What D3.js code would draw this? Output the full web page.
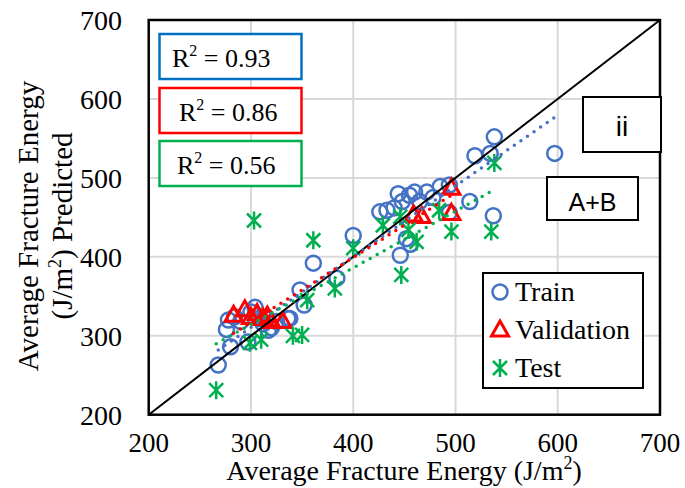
<!DOCTYPE html>
<html>
<head>
<meta charset="utf-8">
<script src="https://cdn.jsdelivr.net/npm/d3@7"></script>
<style>
  body { margin: 0; background: #fff; }
  text { font-family: "Liberation Serif", "Times New Roman", serif; fill: #000; }
  .sans { font-family: "Liberation Sans", Arial, sans-serif; }
</style>
</head>
<body>
<div id="chart"></div>
<script>
var trainX = [268, 280, 276, 278, 284, 290, 297, 300, 304, 308, 312, 317, 320, 325, 336, 338, 348, 352, 361, 384, 400,
              426, 433, 440, 444, 448, 455, 460, 465, 472, 478, 485, 494, 494, 452, 456, 446, 514, 537, 519, 534, 538, 597];
var trainY = [263, 286, 308, 320, 324, 318, 292, 330, 336, 322, 315, 307, 310, 318, 322, 322, 358, 339, 392, 373, 427,
              457, 459, 462, 480, 470, 478, 482, 470, 482, 475, 489, 491, 456, 423, 416, 402, 470, 452, 528, 531, 552, 531];

var valX = [283, 294, 300, 306, 312, 316, 320, 331, 459, 467, 496, 496];
var valY = [326, 333, 323, 328, 322, 325, 318, 318, 453, 451, 487, 455];

var testX = [266, 299, 303, 310, 341, 350, 355, 361, 382, 400, 429, 446, 447, 454, 462, 484, 496, 535, 538];
var testY = [231, 291, 446, 295, 300, 301, 345, 421, 360, 411, 440, 451, 377, 434, 419, 459, 432, 432, 519];

//linear trendlines (slope, intercept) and their R2 labels
var trainFit = [0.896, 41.7];
var valFit = [0.82, 71.1];
var testFit = [0.717, 99.3];
var r2Labels = ["0.93", "0.86", "0.56"];

var ticks = [200, 300, 400, 500, 600, 700];
var legendNames = ["Train", "Validation", "Test"];

var w = 685,
    h = 488;

var blue = "#4472C4",
    red = "#FF0000",
    green = "#00B050";

var svg = d3.select("#chart").append("svg").attr("width", w).attr("height", h);

var x = d3.scaleLinear().domain([200, 700]).range([148.7, 660]);
var y = d3.scaleLinear().domain([200, 700]).range([414.7, 20]);

//gridlines
svg.append("g").selectAll("line.gx")
  .data(ticks.slice(1, -1))
  .enter().append("line")
    .attr("x1", d => x(d)).attr("x2", d => x(d))
    .attr("y1", y(200)).attr("y2", y(700))
    .style("stroke", "#D9D9D9").style("stroke-width", 2);

svg.append("g").selectAll("line.gy")
  .data(ticks.slice(1, -1))
  .enter().append("line")
    .attr("y1", d => y(d)).attr("y2", d => y(d))
    .attr("x1", x(200)).attr("x2", x(700))
    .style("stroke", "#D9D9D9").style("stroke-width", 2);

//tick labels
svg.append("g").selectAll("text")
  .data(ticks)
  .enter().append("text")
    .attr("x", 122)
    .attr("y", d => y(d))
    .attr("dy", "0.35em")
    .attr("text-anchor", "end")
    .style("font-size", "28px")
    .text(d => d);

svg.append("g").selectAll("text")
  .data(ticks)
  .enter().append("text")
    .attr("x", d => x(d))
    .attr("y", 452)
    .attr("text-anchor", "middle")
    .style("font-size", "27px")
    .text(d => d);

//axis titles
var xt = svg.append("text")
  .attr("x", 404).attr("y", 480)
  .attr("text-anchor", "middle")
  .style("font-size", "28px");
xt.append("tspan").text("Average Fracture Energy (J/m");
xt.append("tspan").attr("dy", -11).style("font-size", "18px").text("2");
xt.append("tspan").attr("dy", 11).text(")");

var yt = svg.append("text")
  .attr("transform", "translate(38,226) rotate(-90)")
  .attr("text-anchor", "middle")
  .style("font-size", "29px")
  .text("Average Fracture Energy");

var yt2 = svg.append("text")
  .attr("transform", "translate(72,226) rotate(-90)")
  .attr("text-anchor", "middle")
  .style("font-size", "29px");
yt2.append("tspan").text("(J/m");
yt2.append("tspan").attr("dy", -11).style("font-size", "18px").text("2");
yt2.append("tspan").attr("dy", 11).text(") Predicted");

//markers
var star = "M-7,-7L7,7M7,-7L-7,7M0,-9L0,9";
var tri = "M0,-9L8.5,6L-8.5,6Z";

svg.append("g").selectAll("circle")
  .data(d3.range(trainX.length))
  .enter().append("circle")
    .attr("cx", i => x(trainX[i]))
    .attr("cy", i => y(trainY[i]))
    .attr("r", 7.5)
    .style("fill", "none").style("stroke", blue).style("stroke-width", 2.5);

svg.append("g").selectAll("path")
  .data(d3.range(valX.length))
  .enter().append("path")
    .attr("d", tri)
    .attr("transform", i => "translate(" + x(valX[i]) + "," + y(valY[i]) + ")")
    .style("fill", "none").style("stroke", red).style("stroke-width", 3);

svg.append("g").selectAll("path")
  .data(d3.range(testX.length))
  .enter().append("path")
    .attr("d", star)
    .attr("transform", i => "translate(" + x(testX[i]) + "," + y(testY[i]) + ")")
    .style("fill", "none").style("stroke", green).style("stroke-width", 2.5);

//1:1 line
svg.append("line")
  .attr("x1", x(200)).attr("y1", y(200))
  .attr("x2", x(700)).attr("y2", y(700))
  .style("stroke", "#000").style("stroke-width", 2);

//dotted trendlines over the range of each series
function trend(xs, fit, col) {
  var ext = d3.extent(xs);
  svg.append("line")
    .attr("x1", x(ext[0])).attr("y1", y(fit[0] * ext[0] + fit[1]))
    .attr("x2", x(ext[1])).attr("y2", y(fit[0] * ext[1] + fit[1]))
    .style("stroke", col).style("stroke-width", 3.5)
    .style("stroke-linecap", "round")
    .style("stroke-dasharray", "0 8");
}
trend(trainX, trainFit, blue);
trend(valX, valFit, red);
trend(testX, testFit, green);

//plot frame
svg.append("rect")
  .attr("x", x(200)).attr("y", y(700))
  .attr("width", x(700) - x(200)).attr("height", y(200) - y(700))
  .style("fill", "none").style("stroke", "#000").style("stroke-width", 2.5);

//R2 boxes
var boxTop = [34, 88, 141];
var boxCol = ["#0070C0", red, green];
var textX = [172, 179, 177];
r2Labels.forEach(function(v, i) {
  svg.append("rect")
    .attr("x", 159.5).attr("y", boxTop[i])
    .attr("width", 142).attr("height", 45)
    .style("fill", "#fff").style("stroke", boxCol[i]).style("stroke-width", 2.5);
  var t = svg.append("text")
    .attr("x", textX[i]).attr("y", boxTop[i] + 33)
    .style("font-size", "26px");
  t.append("tspan").text("R");
  t.append("tspan").attr("dy", -11).style("font-size", "16px").text("2");
  t.append("tspan").attr("dy", 11).text(" = " + v);
});

//panel labels
svg.append("rect").attr("x", 583).attr("y", 97).attr("width", 78).attr("height", 55)
  .style("fill", "#fff").style("stroke", "#000").style("stroke-width", 2);
svg.append("text").attr("class", "sans").attr("x", 622).attr("y", 136)
  .attr("text-anchor", "middle").style("font-size", "28px").text("ii");

svg.append("rect").attr("x", 547).attr("y", 177).attr("width", 91).attr("height", 43)
  .style("fill", "#fff").style("stroke", "#000").style("stroke-width", 2);
svg.append("text").attr("class", "sans").attr("x", 592.5).attr("y", 211)
  .attr("text-anchor", "middle").style("font-size", "25px").text("A+B");

//legend
svg.append("rect").attr("x", 483).attr("y", 273).attr("width", 160).attr("height", 115)
  .style("fill", "#fff").style("stroke", "#000").style("stroke-width", 2);

var legend = svg.append("g").selectAll("g")
  .data(legendNames)
  .enter().append("g")
    .attr("transform", (d, i) => "translate(500," + (292 + i * 38) + ")");

legend.each(function(d, i) {
  var g = d3.select(this);
  if (i == 0) g.append("circle").attr("r", 7.5).style("fill", "none").style("stroke", blue).style("stroke-width", 2.5);
  if (i == 1) g.append("path").attr("d", tri).style("fill", "none").style("stroke", red).style("stroke-width", 3);
  if (i == 2) g.append("path").attr("d", star).style("fill", "none").style("stroke", green).style("stroke-width", 2.5);
  g.append("text").attr("x", 15).attr("y", 9).style("font-size", "28px").text(d);
});
</script>
</body>
</html>
